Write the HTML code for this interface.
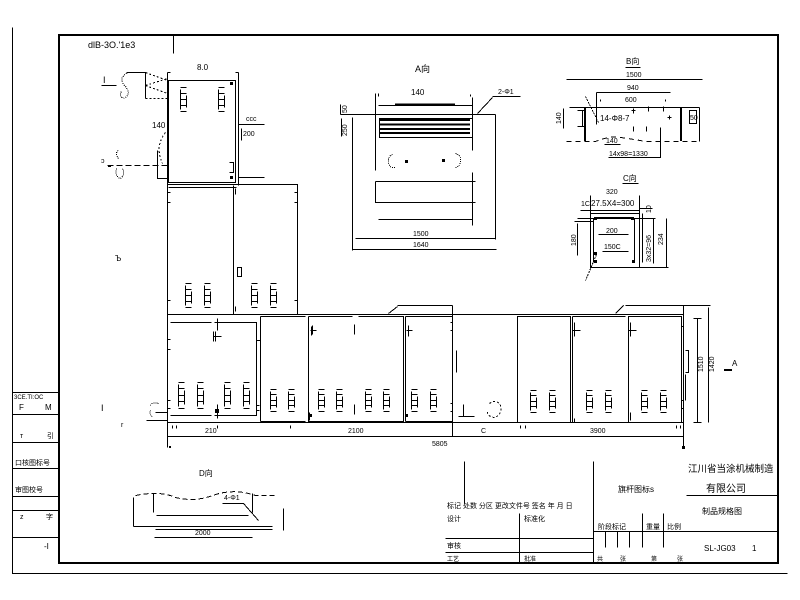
<!DOCTYPE html>
<html><head><meta charset="utf-8"><style>
html,body{margin:0;padding:0;background:#fff;width:800px;height:600px;overflow:hidden}
svg{display:block}
text{font-family:"Liberation Sans","Noto Sans CJK SC",sans-serif;fill:#000;stroke:none}
</style></head><body>
<svg width="800" height="600" viewBox="0 0 800 600" xmlns="http://www.w3.org/2000/svg" shape-rendering="crispEdges">
<rect x="59" y="35" width="719" height="528" fill="none" stroke="#000" stroke-width="2"/>
<g fill="none" stroke="#000" stroke-width="1" transform="translate(.5,.5)">
<!-- outer frame -->
<path d="M12 27V573H787"/>
<path d="M12 392H59M12 414H59M12 442H59M12 468H59M12 496H59M12 510H59M12 537H59"/>
<path d="M173 35V53"/>

<!-- top cabinet -->
<path d="M101 85H116"/>
<path d="M128 72Q117 77 124 85Q131 92 125 97Q118 99 121 90" stroke-dasharray="1 1"/>
<path d="M126 72H145V98"/>
<path d="M145 98H167M145 85L167 78M145 85L167 93M145 72L167 80" stroke-dasharray="2 2"/>
<path d="M167 72V185M238 72V185M167 72H170M235 72H238"/>
<rect x="168" y="80" width="67" height="102"/>
<path d="M238 124H264M238 177H264M241 128V140"/>
<path d="M165 132Q154 146 162 163" stroke-dasharray="2 2"/>
<path d="M157 150V178H167"/>
<path d="M107 165H167" stroke-dasharray="6 3"/>
<path d="M118 158Q114 152 118 150M116 168Q114 176 120 178Q125 174 122 168" stroke-dasharray="1 1"/>
<path d="M229 162H233V172H229"/>

<!-- upper-lower cabinet -->
<rect x="167" y="184" width="130" height="130"/>
<path d="M168 187H236M233 185V314"/>
<rect x="237" y="267" width="4" height="9"/>
<path d="M167 192H170M167 202H170M167 300H170M294 192H297M294 202H297M294 300H297M235 188V194M235 306V311"/>

<!-- main cabinet -->
<path d="M167 314H683V422H167Z"/>
<path d="M167 422V447M683 305V447"/>
<path d="M167 436H683M172 425V428M176 425V428M217 425V428M290 425V428M520 425V428M525 425V428M676 425V428M680 425V428"/>
<!-- box1 -->
<path d="M170 322H211M214 322H256V415H214M211 415H170"/>
<path d="M217 318V330M213 331V341M215 331V341M213 336H221M217 404V418"/>
<path d="M167 339H170M167 349H170M167 400H170M167 408H170M256 405H259M256 410H259"/>
<!-- box2 -->
<path d="M260 316V421M260 316H305M260 421H305M256 340H260"/>
<!-- box3 -->
<path d="M308 316V421H403V316H358M352 316H308"/>
<path d="M312 325V334M310 330H316M311 326V335M354 324V334M354 404V414M309 412V420"/>
<!-- box4 -->
<path d="M405 316V421M405 316H452M405 421H452M408 325V336M406 330H412"/>
<path d="M452 305V436M388 313L397 306M397 305H452"/>
<path d="M450 322H452V330H450M450 403H452V411H450"/>
<!-- gap -->
<path d="M456 350V372M458 416H474M463 404V416"/>
<path d="M489 403Q496 398 500 405Q502 414 494 417Q486 416 487 410" stroke-dasharray="2 2"/>
<!-- right boxes -->
<rect x="517" y="316" width="53" height="106"/>
<path d="M572 316H625M572 422H625M572 316V422M574 322V336M572 330H580M574 418V422"/>
<rect x="628" y="316" width="53" height="106"/>
<path d="M630 322V336M628 330H636M630 412V420M681 326H683M681 400H683M681 408H683"/>
<!-- right dims -->
<path d="M685 350H688V372H685M685 374V400"/>
<path d="M697 318V422M708 307V422M625 305H710M615 313L623 305M693 318H701M693 422H701"/>

<!-- left of main -->
<path d="M155 412H167M146 420H167"/>
<path d="M150 405Q152 401 158 403M150 410Q148 414 152 416" stroke-dasharray="1 1"/>

<!-- A view -->
<path d="M378 105H472M378 93V96M470 94V96M352 114H495"/>
<rect x="379" y="118" width="93" height="19"/>
<path d="M375 93V170M472 97V150M472 172V225"/>
<path d="M392 154Q387 156 388 162Q389 168 395 167M455 153Q461 155 460 161Q459 167 454 167" stroke-dasharray="1 1"/>
<path d="M375 181H475M375 181V202H475M378 219H472"/>
<path d="M355 238H495M352 249H496M352 117V250M495 114V239"/>
<path d="M477 113L492 97M492 96H520M340 114H352M340 104V114M341 118V136"/>

<!-- B view -->
<path d="M625 67H640M566 79H702M596 92H670M596 92V124M600 99V101M665 99V101"/>
<path d="M569 107H699M699 107V141"/>
<path d="M566 141H595Q610 135 620 137Q635 139 645 141H700" stroke-dasharray="5 4"/>
<path d="M577 110H584M582 110V126M577 126H584M563 108V128"/>
<path d="M585 96L598 122" stroke-dasharray="2 1"/>
<path d="M633 108V113M631 110H635M648 106V111M663 106V111M669 115V119M667 117H671M633 126V131M646 126V131"/>
<path d="M660 127V157H608M604 144H620"/>
<rect x="689" y="110" width="7" height="13"/>

<!-- C view -->
<path d="M622 183H638M580 210H639"/>
<path d="M590 195V267H639V195M590 213H639M577 218H655"/>
<path d="M593 218V262M634 218V262M598 234H628M602 251H628"/>
<path d="M596 254L585 280" stroke-dasharray="2 1"/>
<path d="M642 213V262M653 218V263M666 218V267M639 208H652M639 267H668"/>
<path d="M577 223V255M574 221H593"/>

<!-- D view -->
<path d="M135 495Q160 490 175 497Q195 502 215 494Q235 488 255 495H275" stroke-dasharray="5 3"/>
<path d="M153 493V512M252 493V512M156 515H248M133 526H272M133 497V526M155 529H272M222 503H243L258 520M154 537H252M283 508V530"/>

<!-- title block -->
<path d="M464 461V503M593 461V563M686 495H778M593 531H778M445 538H593M445 552H593M519 513V563"/>
<path d="M605 531V547M617 531V547M629 531V547M642 513V547M663 513V547"/>
</g>

<!-- thick lines & fills -->
<g stroke="#000" fill="#000">
<path d="M395 104.5H455" stroke-width="2"/>
<path d="M380 120H470M380 124.5H470M380 129H470M380 133H470" stroke-width="2"/>
<path d="M585 107V141M681 107V141" stroke-width="2"/>
<path d="M597 218H632" stroke-width="2"/>
<path d="M724 370H732" stroke-width="2"/>
<rect x="230" y="82" width="3" height="3" stroke="none"/>
<rect x="230" y="176" width="3" height="3" stroke="none"/>
<rect x="215" y="409" width="4" height="4" stroke="none"/>
<rect x="309" y="414" width="3" height="3" stroke="none"/>
<rect x="405" y="414" width="3" height="3" stroke="none"/>
<rect x="169" y="446" width="2" height="2" stroke="none"/>
<rect x="682" y="446" width="3" height="3" stroke="none"/>
<rect x="108" y="165" width="3" height="2" stroke="none"/>
<rect x="594" y="217" width="3" height="3" stroke="none"/>
<rect x="631" y="217" width="3" height="3" stroke="none"/>
<rect x="594" y="260" width="3" height="3" stroke="none"/>
<rect x="632" y="260" width="3" height="3" stroke="none"/>
<rect x="594" y="252" width="3" height="3" stroke="none"/>
<rect x="405" y="160" width="3" height="3" stroke="none"/>
<rect x="442" y="159" width="3" height="3" stroke="none"/>
</g>

<!-- vents -->
<g fill="none" stroke="#000" stroke-width="1" transform="translate(.5,.5)">
<path d="
M180 87h6M180 93h6M180 99h6M180 105h6M180 111h6M180 89v20M186 95v12
M218 87h6M218 93h6M218 99h6M218 105h6M218 111h6M218 89v20M224 95v12
M185 283h6M185 289h6M185 295h6M185 301h6M185 307h6M185 285v20M191 291v12
M204 283h6M204 289h6M204 295h6M204 301h6M204 307h6M204 285v20M210 291v12
M251 283h6M251 289h6M251 295h6M251 301h6M251 307h6M251 285v20M257 291v12
M270 283h6M270 289h6M270 295h6M270 301h6M270 307h6M270 285v20M276 291v12
M178 382h6M178 388h6M178 395h6M178 401h6M178 408h6M178 384v22M184 390v14
M197 382h6M197 388h6M197 395h6M197 401h6M197 408h6M197 384v22M203 390v14
M224 382h6M224 388h6M224 395h6M224 401h6M224 408h6M224 384v22M230 390v14
M243 382h6M243 388h6M243 395h6M243 401h6M243 408h6M243 384v22M249 390v14
M270 389h6M270 394h6M270 400h6M270 405h6M270 411h6M270 391v18M276 396v11
M288 389h6M288 394h6M288 400h6M288 405h6M288 411h6M288 391v18M294 396v11
M318 389h6M318 394h6M318 400h6M318 405h6M318 411h6M318 391v18M324 396v11
M336 389h6M336 394h6M336 400h6M336 405h6M336 411h6M336 391v18M342 396v11
M365 389h6M365 394h6M365 400h6M365 405h6M365 411h6M365 391v18M371 396v11
M383 389h6M383 394h6M383 400h6M383 405h6M383 411h6M383 391v18M389 396v11
M411 389h6M411 394h6M411 400h6M411 405h6M411 411h6M411 391v18M417 396v11
M430 389h6M430 394h6M430 400h6M430 405h6M430 411h6M430 391v18M436 396v11
M530 390h6M530 395h6M530 401h6M530 406h6M530 412h6M530 392v18M536 397v11
M549 390h6M549 395h6M549 401h6M549 406h6M549 412h6M549 392v18M555 397v11
M586 390h6M586 395h6M586 401h6M586 406h6M586 412h6M586 392v18M592 397v11
M605 390h6M605 395h6M605 401h6M605 406h6M605 412h6M605 392v18M611 397v11
M641 390h6M641 395h6M641 401h6M641 406h6M641 412h6M641 392v18M647 397v11
M660 390h6M660 395h6M660 401h6M660 406h6M660 412h6M660 392v18M666 397v11
"/>
</g>

<!-- texts -->
<g font-size="8">
<text x="88" y="48" font-size="9">dlB-3O.'1e3</text>
<text x="103" y="83" font-size="9">I</text>
<text x="197" y="70">8.0</text>
<text x="246" y="121" font-size="7">ccc</text>
<text x="243" y="136" font-size="7">200</text>
<text x="152" y="128" font-size="8">140</text>
<text x="101" y="163" font-size="7">ↄ</text>
<text x="115" y="261" font-size="8">Ъ</text>
<text x="101" y="411" font-size="9">I</text>
<text x="121" y="427" font-size="7">r</text>
<text x="205" y="433" font-size="7">210</text>
<text x="348" y="433" font-size="7">2100</text>
<text x="481" y="433" font-size="7">C</text>
<text x="590" y="433" font-size="7">3900</text>
<text x="432" y="446" font-size="7">5805</text>
<text x="732" y="366" font-size="8">A</text>
<text transform="translate(703,372) rotate(-90)" font-size="7">1510</text>
<text transform="translate(714,372) rotate(-90)" font-size="7">1420</text>

<text x="415" y="72" font-size="9">A向</text>
<text x="411" y="95" font-size="8">140</text>
<text x="498" y="94" font-size="7">2-Φ1</text>
<text x="413" y="236" font-size="7">1500</text>
<text x="413" y="247" font-size="7">1640</text>
<text transform="translate(347,113) rotate(-90)" font-size="7">50</text>
<text transform="translate(347,136) rotate(-90)" font-size="7">250</text>

<text x="626" y="64" font-size="8">B向</text>
<text x="626" y="77" font-size="7">1500</text>
<text x="627" y="90" font-size="7">940</text>
<text x="625" y="102" font-size="7">600</text>
<text x="600" y="121" font-size="8">14-Φ8-7</text>
<text x="606" y="143" font-size="7">140</text>
<text x="609" y="156" font-size="7">14x98=1330</text>
<text transform="translate(561,124) rotate(-90)" font-size="7">140</text>
<text x="690" y="120" font-size="7">50</text>

<text x="623" y="181" font-size="8">C向</text>
<text x="606" y="194" font-size="7">320</text>
<text x="581" y="206" font-size="7">1C</text>
<text x="591" y="206" font-size="8">27.5X4=300</text>
<text x="606" y="233" font-size="7">200</text>
<text x="604" y="249" font-size="7">150C</text>
<text transform="translate(576,246) rotate(-90)" font-size="7">180</text>
<text transform="translate(651,262) rotate(-90)" font-size="7">3x32=96</text>
<text transform="translate(663,245) rotate(-90)" font-size="7">234</text>
<text transform="translate(651,213) rotate(-90)" font-size="7">10</text>

<text x="199" y="476" font-size="8">D向</text>
<text x="224" y="500" font-size="7">4-Φ1</text>
<text x="195" y="535" font-size="7">2000</text>

<!-- left strip -->
<text x="14" y="399" font-size="6">3CE.TI:OC</text>
<text x="19" y="410" font-size="8">F</text>
<text x="45" y="410" font-size="8">M</text>
<text x="20" y="438" font-size="7">т</text>
<text x="47" y="438" font-size="7">引</text>
<text x="15" y="465" font-size="7">口核图标号</text>
<text x="15" y="492" font-size="7">审图校号</text>
<text x="20" y="519" font-size="7">z</text>
<text x="46" y="519" font-size="7">字</text>
<text x="44" y="549" font-size="8">-I</text>

<!-- title block -->
<text x="688" y="472" font-size="9.5">江川省当涂机械制造</text>
<text x="706" y="492" font-size="10">有限公司</text>
<text x="618" y="492" font-size="8">旗杆图标s</text>
<text x="447" y="508" font-size="7">标记 处数 分区 更改文件号 签名 年 月 日</text>
<text x="447" y="521" font-size="7">设计</text>
<text x="524" y="521" font-size="7">标准化</text>
<text x="598" y="529" font-size="7">阶段标记</text>
<text x="646" y="529" font-size="7">重量</text>
<text x="667" y="529" font-size="7">比例</text>
<text x="702" y="514" font-size="8">制品规格图</text>
<text x="447" y="548" font-size="7">审核</text>
<text x="447" y="561" font-size="6">工艺</text>
<text x="524" y="561" font-size="6">批准</text>
<text x="597" y="561" font-size="6">共</text>
<text x="620" y="561" font-size="6">张</text>
<text x="651" y="561" font-size="6">第</text>
<text x="677" y="561" font-size="6">张</text>
<text x="704" y="551" font-size="8">SL-JG03</text>
<text x="752" y="551" font-size="8">1</text>
</g>
</svg>
</body></html>
